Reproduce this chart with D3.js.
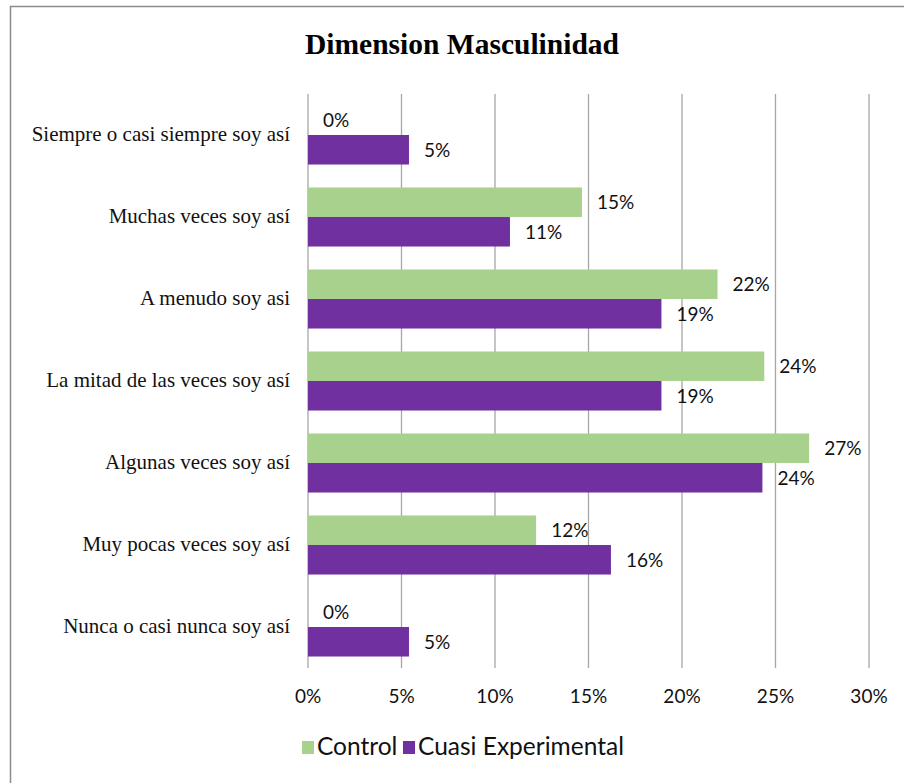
<!DOCTYPE html>
<html><head><meta charset="utf-8">
<script src="https://cdn.jsdelivr.net/npm/d3@7"></script>
<style>body{margin:0;background:#fff}svg{display:block}</style>
</head><body>
<svg id="c" width="904" height="783"></svg>
<script>
const categories = ["Siempre o casi siempre soy así","Muchas veces soy así","A menudo soy asi","La mitad de las veces soy así","Algunas veces soy así","Muy pocas veces soy así","Nunca o casi nunca soy así"];
const seriesNames = ["Control","Cuasi Experimental"];
const controlValues = [0, 14.65, 21.9, 24.4, 26.8, 12.2, 0];
const cuasiValues = [5.4, 10.8, 18.9, 18.9, 24.3, 16.2, 5.4];
const tickValues = [0,5,10,15,20,25,30];
const colors = ["#A9D18E","#7030A0"];

const svg = d3.select("#c");
svg.append("rect").attr("x",10.5).attr("y",6.5).attr("width",920).attr("height",800)
  .attr("fill","#fff").attr("stroke","#8c8c8c").attr("stroke-width",1.5);

svg.append("text").attr("x",462).attr("y",54).attr("text-anchor","middle")
  .attr("font-family","Liberation Serif").attr("font-weight","bold").attr("font-size",29.5)
  .text("Dimension Masculinidad");

const x = d3.scaleLinear().domain([0,30]).range([308,869]);
const y = d3.scaleBand().domain(categories).range([94,668]).paddingInner(0.28).paddingOuter(0.14);
const y2 = d3.scaleBand().domain(seriesNames).range([0,y.bandwidth()]);

svg.append("g").selectAll("line").data(tickValues).join("line")
  .attr("x1",d=>x(d)).attr("x2",d=>x(d)).attr("y1",94).attr("y2",668)
  .attr("stroke","#a6a6a6").attr("stroke-width",1.3);

const data = categories.map((c,i)=>({c, vals:[controlValues[i],cuasiValues[i]]}));
const g = svg.append("g").selectAll("g").data(data).join("g")
  .attr("transform",d=>`translate(0,${y(d.c)})`);
const bars = g.selectAll("g").data(d=>d.vals.map((v,k)=>({v,k}))).join("g");
bars.append("rect").attr("x",x(0)).attr("y",d=>y2(seriesNames[d.k]))
  .attr("width",d=>x(d.v)-x(0)).attr("height",y2.bandwidth())
  .attr("fill",d=>colors[d.k]);
bars.append("text").attr("x",d=>x(d.v)+15).attr("y",d=>y2(seriesNames[d.k])+y2.bandwidth()/2+7)
  .attr("font-family","Lato").attr("font-size",19).attr("fill","#111")
  .text(d=>Math.round(d.v)+"%");

svg.append("g").selectAll("text").data(categories).join("text")
  .attr("x",290).attr("y",d=>y(d)+y.bandwidth()/2+6).attr("text-anchor","end")
  .attr("font-family","Liberation Serif").attr("font-size",21).attr("fill","#111")
  .text(d=>d);

svg.append("g").selectAll("text").data(tickValues).join("text")
  .attr("x",d=>x(d)).attr("y",703).attr("text-anchor","middle")
  .attr("font-family","Lato").attr("font-size",19).attr("fill","#111")
  .text(d=>d+"%");

const leg = svg.append("g");
const lx = [302, 403];
seriesNames.forEach((s,k)=>{
  leg.append("rect").attr("x",lx[k]).attr("y",741).attr("width",12).attr("height",13).attr("fill",colors[k]);
  leg.append("text").attr("x",lx[k]+15).attr("y",755).attr("font-family","Lato").attr("font-size",24.5)
    .attr("fill","#111").text(s);
});
</script>
</body></html>
